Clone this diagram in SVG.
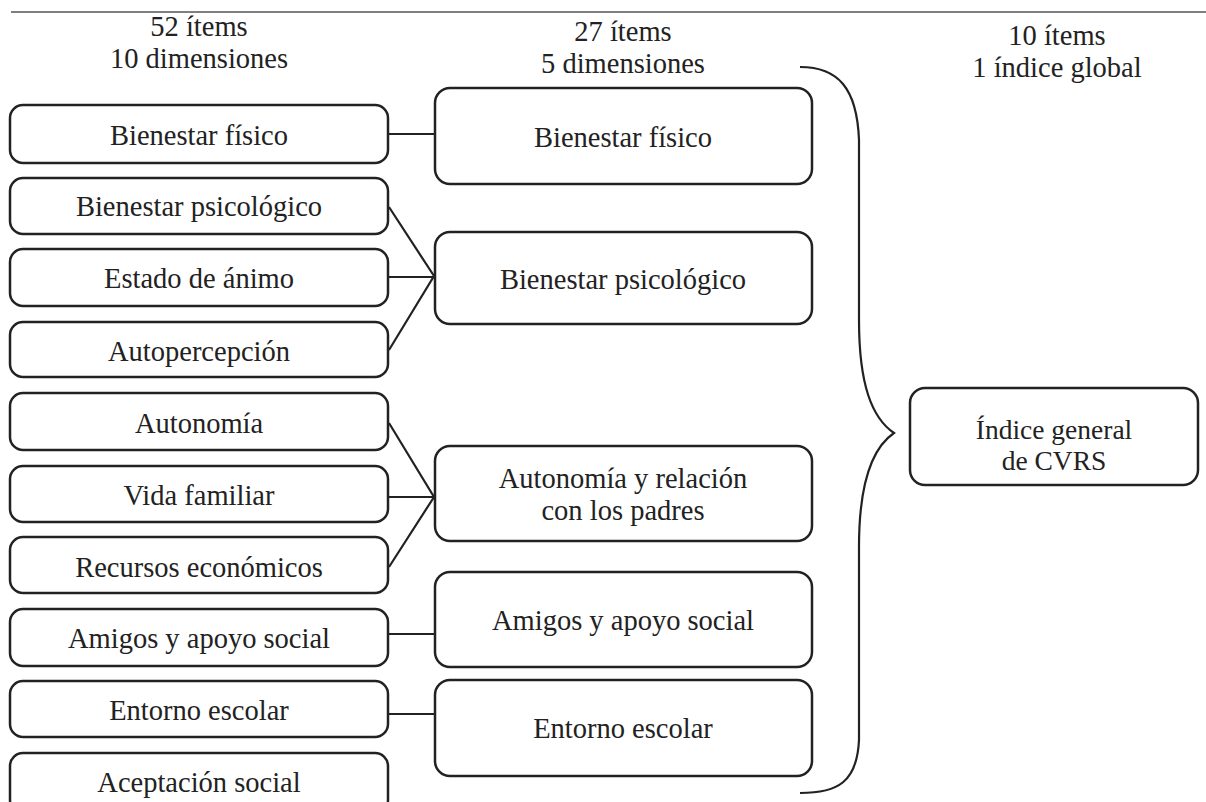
<svg xmlns="http://www.w3.org/2000/svg" width="1206" height="802" viewBox="0 0 1206 802">
<style>
.box{fill:#fff;stroke:#222;stroke-width:2.5}
.t{font-family:"Liberation Serif","Times New Roman",serif;font-size:28.5px;fill:#222;text-anchor:middle}
.s{font-size:27.5px}
.c{fill:none;stroke:#222;stroke-width:2.2}
</style>
<rect width="1206" height="802" fill="#fff"/>
<line x1="11" y1="12" x2="1206" y2="12" stroke="#555" stroke-width="1.5"/>
<g id="headers">
<text class="t" x="199" y="36">52 ítems</text>
<text class="t" x="199" y="68">10 dimensiones</text>
<text class="t" x="623" y="41">27 ítems</text>
<text class="t" x="623" y="73">5 dimensiones</text>
<text class="t" x="1057" y="45">10 ítems</text>
<text class="t" x="1057" y="77">1 índice global</text>
</g>
<g id="connectors">
<line class="c" x1="388" y1="134" x2="435" y2="134"/>
<polyline class="c" points="389,207 434,276 389,350"/>
<line class="c" x1="388" y1="277" x2="434" y2="277"/>
<polyline class="c" points="389,423 434,497 389,567"/>
<line class="c" x1="388" y1="497" x2="434" y2="497"/>
<line class="c" x1="388" y1="634" x2="435" y2="634"/>
<line class="c" x1="388" y1="714" x2="435" y2="714"/>
<path class="c" d="M800,67 C838,67 857,88 859,140 L859,320 C859,385 872,418 894,433 C872,448 859,482 859,547 L859,740 C857,782 838,793 800,793"/>
</g>
<g id="l1"><rect class="box" x="10" y="105" width="378" height="58" rx="13"/><text class="t" x="199" y="145">Bienestar físico</text></g>
<g id="l2"><rect class="box" x="10" y="178" width="378" height="56" rx="13"/><text class="t" x="199" y="216">Bienestar psicológico</text></g>
<g id="l3"><rect class="box" x="10" y="249" width="378" height="57" rx="13"/><text class="t" x="199" y="288">Estado de ánimo</text></g>
<g id="l4"><rect class="box" x="10" y="322" width="378" height="55" rx="13"/><text class="t" x="199" y="361">Autopercepción</text></g>
<g id="l5"><rect class="box" x="10" y="393" width="378" height="57" rx="13"/><text class="t" x="199" y="433">Autonomía</text></g>
<g id="l6"><rect class="box" x="10" y="466" width="378" height="56" rx="13"/><text class="t" x="199" y="505">Vida familiar</text></g>
<g id="l7"><rect class="box" x="10" y="537" width="378" height="56" rx="13"/><text class="t" x="199" y="577">Recursos económicos</text></g>
<g id="l8"><rect class="box" x="10" y="609" width="378" height="57" rx="13"/><text class="t" x="199" y="648">Amigos y apoyo social</text></g>
<g id="l9"><rect class="box" x="10" y="681" width="378" height="56" rx="13"/><text class="t" x="199" y="720">Entorno escolar</text></g>
<g id="l10"><rect class="box" x="10" y="753" width="378" height="60" rx="13"/><text class="t" x="199" y="792">Aceptación social</text></g>
<g id="m1"><rect class="box" x="435" y="88" width="377" height="96" rx="15"/><text class="t" x="623" y="147">Bienestar físico</text></g>
<g id="m2"><rect class="box" x="435" y="232" width="377" height="92" rx="15"/><text class="t" x="623" y="289">Bienestar psicológico</text></g>
<g id="m3"><rect class="box" x="435" y="446" width="377" height="95" rx="15"/><text class="t" x="623" y="488">Autonomía y relación</text><text class="t" x="623" y="520">con los padres</text></g>
<g id="m4"><rect class="box" x="435" y="572" width="377" height="95" rx="15"/><text class="t" x="623" y="630">Amigos y apoyo social</text></g>
<g id="m5"><rect class="box" x="435" y="680" width="377" height="96" rx="15"/><text class="t" x="623" y="738">Entorno escolar</text></g>
<g id="r1"><rect class="box" x="910" y="388" width="288" height="97" rx="15"/><text class="t s" x="1054" y="439">Índice general</text><text class="t s" x="1054" y="470">de CVRS</text></g>
</svg>
